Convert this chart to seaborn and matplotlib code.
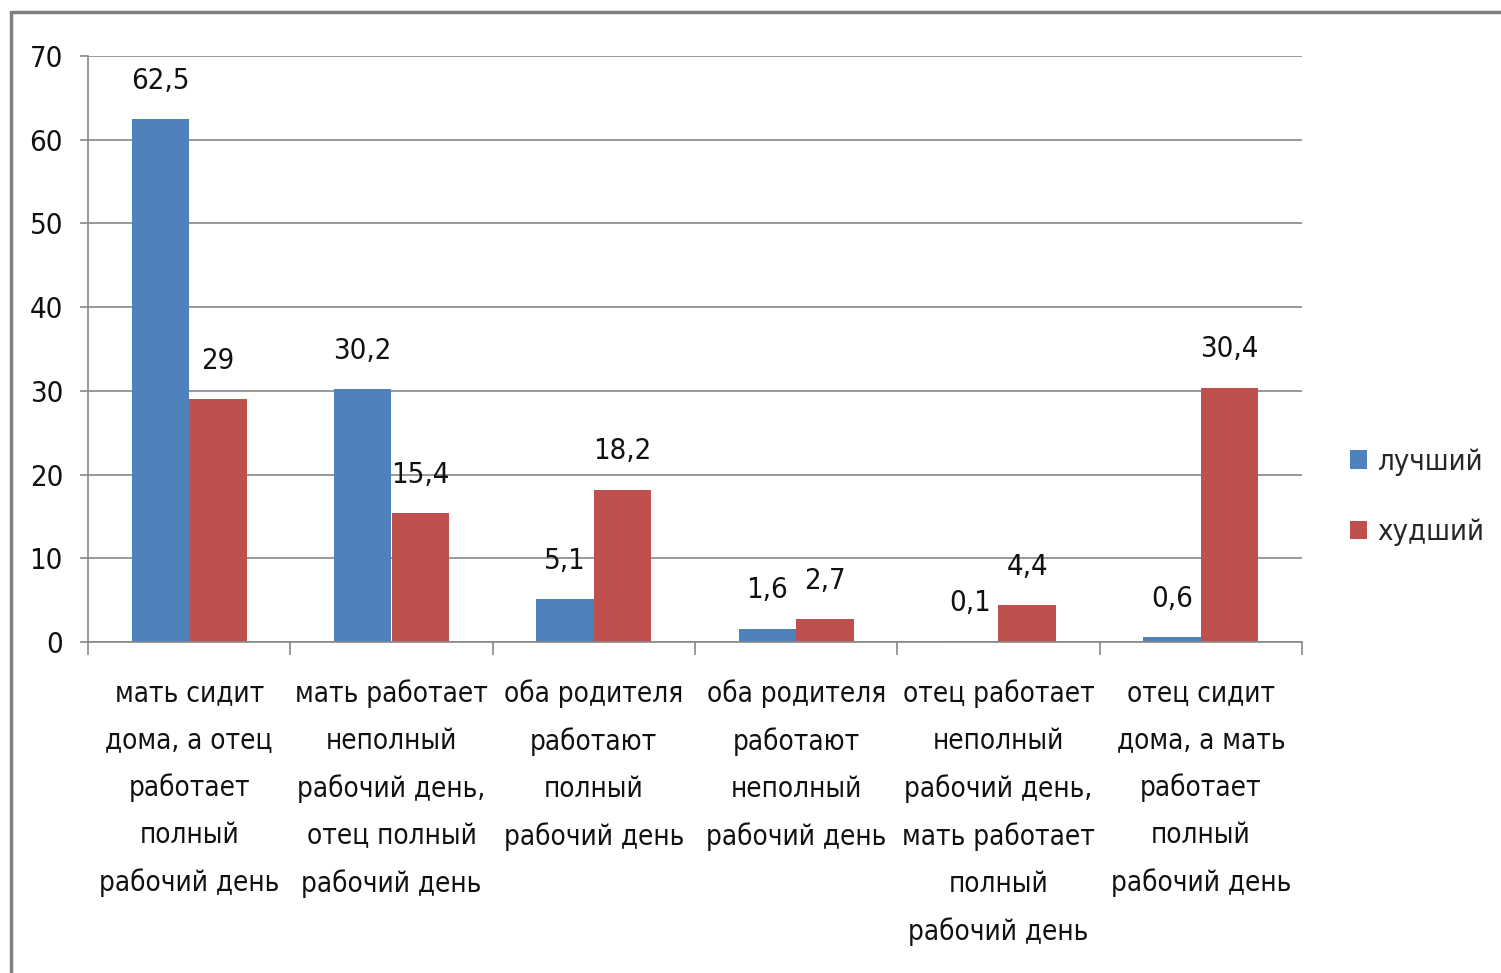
import matplotlib
matplotlib.use("Agg")
import matplotlib.pyplot as plt
import seaborn as sns
import pandas as pd
from matplotlib.lines import Line2D
from matplotlib.patches import Patch

categories = [
    "мать сидит\nдома, а отец\nработает\nполный\nрабочий день",
    "мать работает\nнеполный\nрабочий день,\nотец полный\nрабочий день",
    "оба родителя\nработают\nполный\nрабочий день",
    "оба родителя\nработают\nнеполный\nрабочий день",
    "отец работает\nнеполный\nрабочий день,\nмать работает\nполный\nрабочий день",
    "отец сидит\nдома, а мать\nработает\nполный\nрабочий день",
]
series_names = ["лучший", "худший"]
best = [62.5, 30.2, 5.1, 1.6, 0.1, 0.6]
worst = [29, 15.4, 18.2, 2.7, 4.4, 30.4]
yticks = [0, 10, 20, 30, 40, 50, 60, 70]

colors = ["#4F81BD", "#C0504D"]

sns.set_theme(style="white")
plt.rcParams["font.family"] = ["DejaVu Sans"]
plt.rcParams["font.stretch"] = "condensed"

FS = 20

df = pd.DataFrame({
    "cat": categories * 2,
    "series": [series_names[0]] * len(categories) + [series_names[1]] * len(categories),
    "value": best + worst,
})

fig = plt.figure(figsize=(15.01, 9.73), dpi=100)
ax = fig.add_axes([88 / 1501, 1 - 642 / 973, (1302 - 88) / 1501, (642 - 56) / 973])

sns.barplot(data=df, x="cat", y="value", hue="series", order=categories,
            hue_order=series_names, palette=colors, width=0.57, saturation=1,
            errorbar=None, ax=ax, legend=False, linewidth=0, edgecolor="none")

ax.set_ylim(0, 70)
ax.set_xlim(-0.5, len(categories) - 0.5)
ax.set_yticks(yticks)
ax.set_yticklabels([str(t) for t in yticks])
ax.yaxis.grid(True, color="#888888", linewidth=1.2)
ax.set_axisbelow(True)
ax.set_xlabel("")
ax.set_ylabel("")

for s in ["top", "right"]:
    ax.spines[s].set_visible(False)
for s in ["left", "bottom"]:
    ax.spines[s].set_color("#888888")
    ax.spines[s].set_linewidth(1.2)

ax.tick_params(axis="y", which="major", length=6, width=1.2, color="#888888",
               pad=12, labelsize=FS + 1, labelcolor="#111111", left=True)
ax.set_xticks(range(len(categories)))
ax.set_xticklabels(categories, fontsize=FS, color="#111111", linespacing=1.85)
ax.tick_params(axis="x", which="major", length=0, pad=27)
ax.set_xticks([i - 0.5 for i in range(len(categories) + 1)], minor=True)
ax.tick_params(axis="x", which="minor", length=9, width=1.2, color="#888888", bottom=True)

for cont in ax.containers:
    for bar in cont:
        h = bar.get_height()
        lbl = f"{h:g}".replace(".", ",")
        ax.annotate(lbl, (bar.get_x() + bar.get_width() / 2, h),
                    xytext=(0, 27.5), textcoords="offset points",
                    ha="center", va="center", fontsize=FS + 1, color="#111111")

handles = [Patch(facecolor=c, edgecolor="none") for c in colors]
fig.legend(handles, series_names, loc="center left",
           bbox_to_anchor=(1338 / 1501, 1 - 497 / 973), frameon=False,
           fontsize=FS + 1, handlelength=0.6, handleheight=0.6, handletextpad=0.35,
           labelspacing=1.45, borderaxespad=0)

# outer frame (top and left visible)
fig.add_artist(Line2D([11 / 1501, 1], [1 - 12 / 973, 1 - 12 / 973],
                      transform=fig.transFigure, color="#808080", linewidth=2.5))
fig.add_artist(Line2D([11 / 1501, 11 / 1501], [0, 1 - 12 / 973],
                      transform=fig.transFigure, color="#808080", linewidth=2.5))

fig.savefig("out.png", dpi=100)
